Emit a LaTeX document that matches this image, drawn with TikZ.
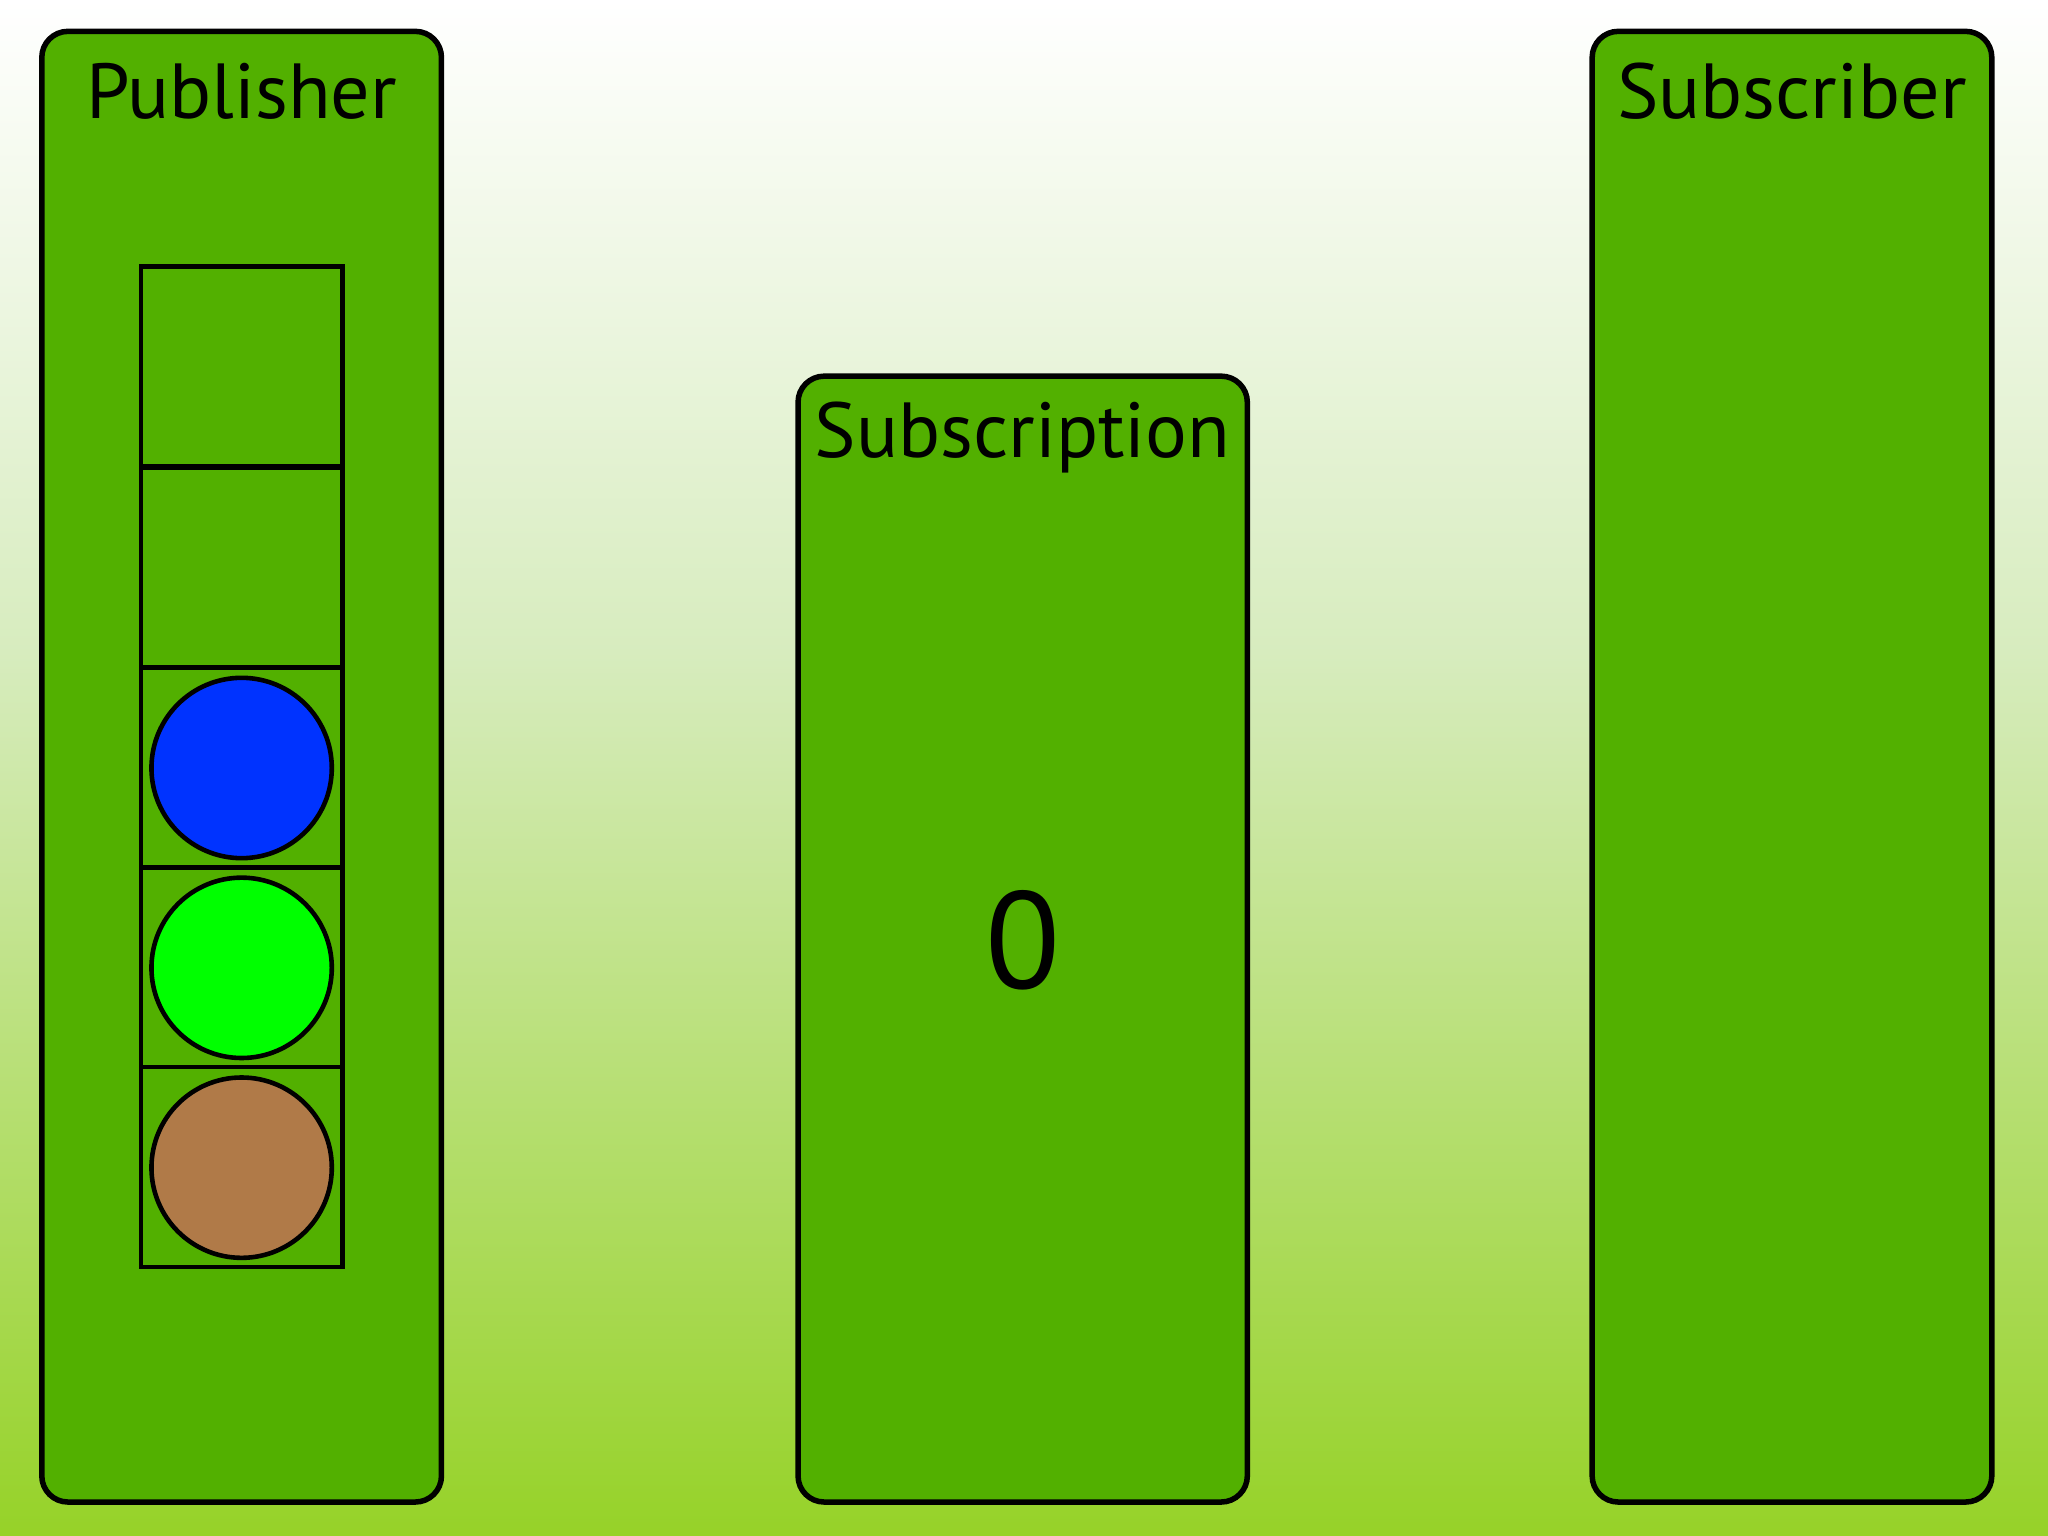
\documentclass[tikz,border=0pt]{standalone}
\usepackage{fontspec}
\setmainfont{PT Sans}
\definecolor{boxg}{RGB}{82,176,0}
\definecolor{bgbot}{RGB}{150,210,40}
\definecolor{bgmid}{RGB}{215,236,190}
\definecolor{cblue}{RGB}{0,51,255}
\definecolor{cgreen}{RGB}{0,255,0}
\definecolor{cbrown}{RGB}{176,122,72}
\begin{document}
\begin{tikzpicture}[x=0.01cm,y=-0.01cm,
  panel/.style={draw=black,line width=1.2pt,fill=boxg,rounded corners=0.2cm},
  title/.style={font=\fontsize{17}{20}\selectfont},
  cell/.style={draw=black,line width=1pt},
  ball/.style={draw=black,line width=1pt,circle,minimum size=1.38cm,inner sep=0pt}]
\useasboundingbox (0,0) rectangle (1568,1176);
\shade[top color=white,bottom color=bgmid] (0,0) rectangle (1568,500);
\shade[top color=bgmid,bottom color=bgbot] (0,499) rectangle (1568,1176);
\draw[panel] (32,24) rectangle (338,1150);
\draw[panel] (611,288) rectangle (955,1150);
\draw[panel] (1219,24) rectangle (1525,1150);
\node[title] (pub) at (185,70) {Publisher};
\node[title] (subn) at (783,335) {Subscription};
\node[title] (sub) at (1372,70) {Subscriber};
\node[font=\fontsize{30}{34}\selectfont] (zero) at (783,720) {0};
\foreach \y in {204,358,511,664,817}{\draw[cell] (108,\y) rectangle (262,\y+153);}
\node[ball,fill=cblue] (b1) at (185,588) {};
\node[ball,fill=cgreen] (b2) at (185,741) {};
\node[ball,fill=cbrown] (b3) at (185,894) {};
\end{tikzpicture}
\end{document}
